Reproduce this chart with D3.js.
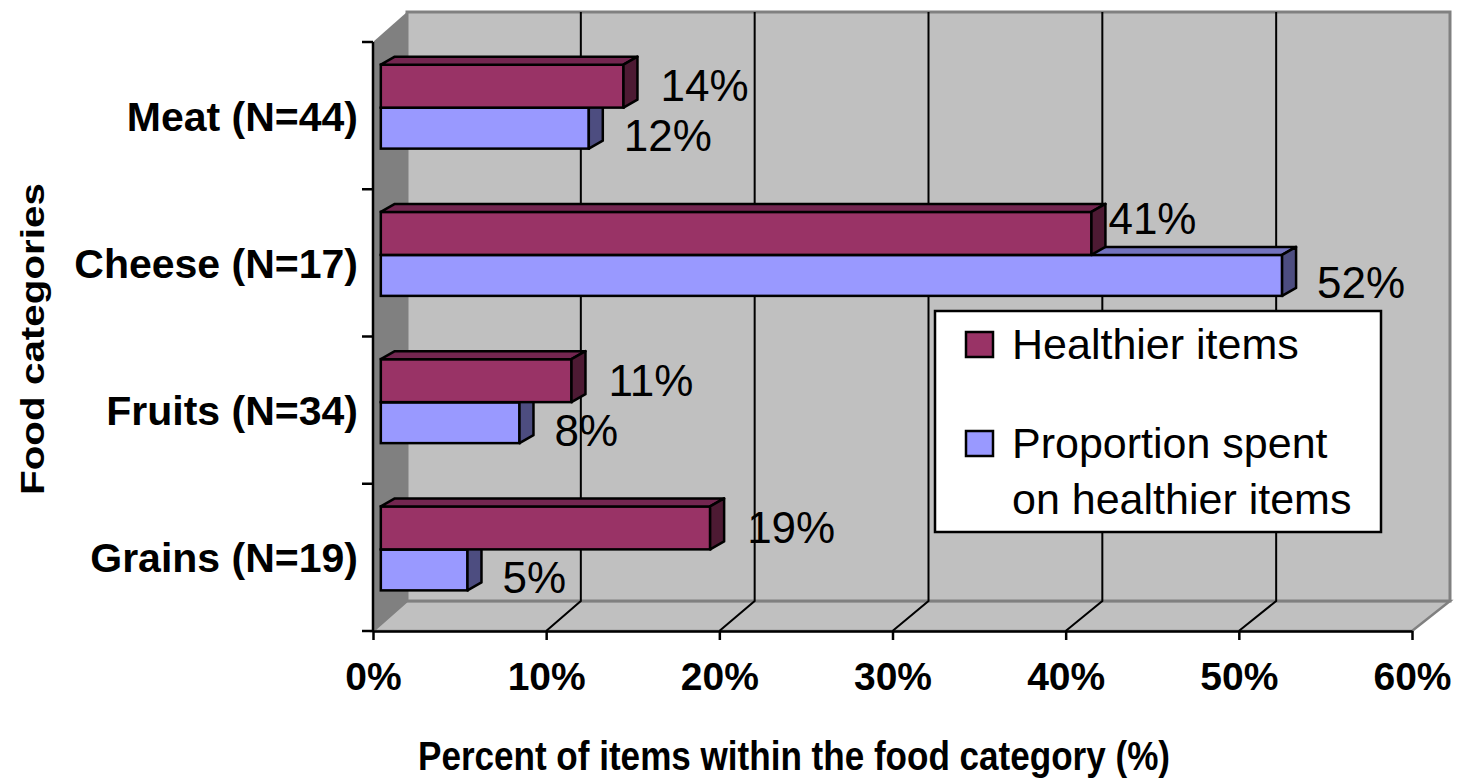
<!DOCTYPE html>
<html>
<head>
<meta charset="utf-8">
<script src="https://cdn.jsdelivr.net/npm/d3@7"></script>
<style>
  html, body { margin: 0; padding: 0; background: #fff; }
  svg { display: block; font-family: "Liberation Sans", Arial, Helvetica, sans-serif; }
</style>
</head>
<body>
<svg id="chart" width="1462" height="782"></svg>
<script>
// ---- data ----
const categories = ["Meat (N=44)", "Cheese (N=17)", "Fruits (N=34)", "Grains (N=19)"];
const healthierItems = [14, 41, 11, 19];
const proportionSpent = [12, 52, 8, 5];
const xTickValues = [0, 10, 20, 30, 40, 50, 60];
const seriesNames = ["Healthier items", "Proportion spent on healthier items"];
const legendLines = [["Healthier items"], ["Proportion spent", "on healthier items"]];
const xTitle = "Percent of items within the food category (%)";
const yTitle = "Food categories";

// ---- layout ----
const svg = d3.select("#chart");
const frontTop = 42, frontBottom = 631;
const depthY = -30;
const xFront = d3.scaleLinear().domain([0, 60]).range([373, 1412]);
const xBack = d3.scaleLinear().domain([0, 60]).range([373 + 34, 1412 + 38]);
const barDepthFrac = 0.23;
const xBar = v => xFront(v) + barDepthFrac * (xBack(v) - xFront(v));
const yBand = d3.scaleBand().domain(categories).range([frontTop, frontBottom]).padding(0);
const backTop = frontTop + depthY, backBottom = frontBottom + depthY;

const grey = "#c0c0c0", darkGrey = "#808080";

// side wall
svg.append("polygon")
  .attr("points", [[xFront(0), frontTop], [xBack(0), backTop], [xBack(0), backBottom], [xFront(0), frontBottom]].join(" "))
  .attr("fill", darkGrey);
// floor
svg.append("polygon")
  .attr("points", [[xFront(0), frontBottom], [xBack(0), backBottom], [xBack(60), backBottom], [xFront(60), frontBottom]].join(" "))
  .attr("fill", grey).attr("stroke", darkGrey).attr("stroke-width", 2.5);
// back wall
svg.append("rect")
  .attr("x", xBack(0)).attr("y", backTop)
  .attr("width", xBack(60) - xBack(0)).attr("height", backBottom - backTop)
  .attr("fill", grey).attr("stroke", darkGrey).attr("stroke-width", 3);

// gridlines
const gridVals = xTickValues.filter(v => v > 0 && v < 60);
svg.append("g").selectAll("path").data(gridVals).join("path")
  .attr("d", v => `M${xBack(v)},${backTop}L${xBack(v)},${backBottom}L${xFront(v)},${frontBottom}`)
  .attr("fill", "none").attr("stroke", "#000").attr("stroke-width", 2);

// axes (front edges)
const xAxis = d3.axisBottom(xFront).tickValues(xTickValues).tickFormat(d => d + "%").tickSize(9).tickSizeOuter(0).tickPadding(22);
const gx = svg.append("g").attr("transform", `translate(0,${frontBottom})`).call(xAxis);
gx.select(".domain").attr("stroke", "#000").attr("stroke-width", 2.5);
gx.selectAll(".tick line").attr("stroke", "#000").attr("stroke-width", 2.5);
gx.selectAll(".tick text").attr("fill", "#000").attr("font-size", 39).attr("font-weight", "bold")
  .attr("font-family", "'Liberation Sans', Arial, sans-serif");

// y axis line + ticks at band boundaries
svg.append("line").attr("x1", xFront(0)).attr("x2", xFront(0)).attr("y1", frontTop).attr("y2", frontBottom)
  .attr("stroke", "#000").attr("stroke-width", 2.5);
const boundaries = categories.map(c => yBand(c)).concat([frontBottom]);
svg.append("g").selectAll("line").data(boundaries).join("line")
  .attr("x1", xFront(0) - 11).attr("x2", xFront(0)).attr("y1", d => d).attr("y2", d => d)
  .attr("stroke", "#000").attr("stroke-width", 2.5);
// category labels
svg.append("g").selectAll("text").data(categories).join("text")
  .attr("x", xFront(0) - 15).attr("y", c => yBand(c) + yBand.bandwidth() / 2 + 15)
  .attr("text-anchor", "end").attr("font-size", 41).attr("font-weight", "bold")
  .text(c => c);

// bars
const barH = 43, bDx = 14, bDy = -8, barShift = -8;
const colors = [
  { front: "#993366", top: "#732650", side: "#4d1a33" },
  { front: "#9999ff", top: "#7373bf", side: "#4d4d80" }
];
const rows = categories.map((c, i) => ({ c, h: healthierItems[i], p: proportionSpent[i] }));

function drawBar(g, x1, y0, y1, col) {
  const x0 = xBar(0);
  g.append("rect").attr("x", x0).attr("y", y0).attr("width", x1 - x0).attr("height", y1 - y0)
    .attr("fill", col.front).attr("stroke", "#000").attr("stroke-width", 2.5);
  g.append("polygon").attr("points", [[x0, y0], [x0 + bDx, y0 + bDy], [x1 + bDx, y0 + bDy], [x1, y0]].join(" "))
    .attr("fill", col.top).attr("stroke", "#000").attr("stroke-width", 2.5).attr("stroke-linejoin", "round");
  g.append("polygon").attr("points", [[x1, y0], [x1 + bDx, y0 + bDy], [x1 + bDx, y1 + bDy], [x1, y1]].join(" "))
    .attr("fill", col.side).attr("stroke", "#000").attr("stroke-width", 2.5).attr("stroke-linejoin", "round");
}

const barsG = svg.append("g");
rows.forEach(r => {
  const mid = yBand(r.c) + yBand.bandwidth() / 2 + barShift;
  const g = barsG.append("g");
  drawBar(g, xBar(r.p), mid, mid + barH - 2, colors[1]);
  drawBar(g, xBar(r.h), mid - barH, mid, colors[0]);
});

// value labels
const labelsG = svg.append("g").attr("font-size", 44).attr("fill", "#000");
rows.forEach(r => {
  const mid = yBand(r.c) + yBand.bandwidth() / 2 + barShift;
  const blocked = r.p > r.h;
  labelsG.append("text")
    .attr("x", xBar(r.h) + (blocked ? 17 : 37))
    .attr("y", mid - barH / 2 + 15 - (blocked ? 14 : 0))
    .text(r.h + "%");
  labelsG.append("text")
    .attr("x", xBar(r.p) + 35)
    .attr("y", mid + barH / 2 + 22)
    .text(r.p + "%");
});

// legend
const lg = svg.append("g").attr("transform", "translate(935,311)");
lg.append("rect").attr("width", 446).attr("height", 221).attr("fill", "#fff").attr("stroke", "#000").attr("stroke-width", 2.5);
const legendRows = [{ y: 21, col: colors[0].front, lines: legendLines[0] }, { y: 120, col: colors[1].front, lines: legendLines[1] }];
legendRows.forEach(e => {
  lg.append("rect").attr("x", 31).attr("y", e.y).attr("width", 27).attr("height", 25)
    .attr("fill", e.col).attr("stroke", "#000").attr("stroke-width", 2.5);
  e.lines.forEach((t, k) => {
    lg.append("text").attr("x", 77).attr("y", e.y + 27 + k * 56).attr("font-size", 43).text(t);
  });
});

// axis titles
svg.append("text").attr("x", 794).attr("y", 770).attr("text-anchor", "middle")
  .attr("font-size", 40).attr("font-weight", "bold")
  .attr("textLength", 752).attr("lengthAdjust", "spacingAndGlyphs").text(xTitle);
svg.append("text").attr("transform", "translate(44,339) rotate(-90)").attr("text-anchor", "middle")
  .attr("font-size", 34).attr("font-weight", "bold")
  .attr("textLength", 312).attr("lengthAdjust", "spacingAndGlyphs").text(yTitle);
</script>
</body>
</html>
